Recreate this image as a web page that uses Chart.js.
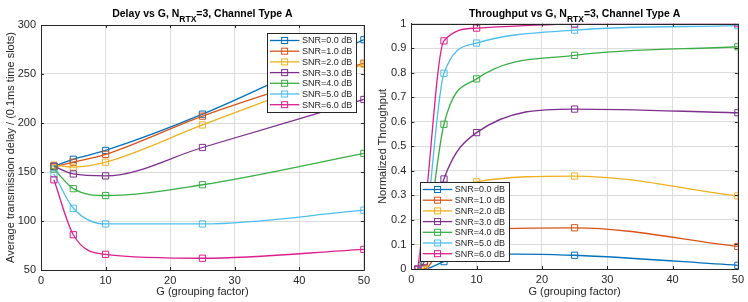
<!DOCTYPE html>
<html>
<head>
<meta charset="utf-8">
<script src="https://cdn.jsdelivr.net/npm/chart.js@4.4.1/dist/chart.umd.min.js"></script>
<style>
    html, body { margin: 0; padding: 0; background: #fff; }
    #wrap { position: relative; width: 748px; height: 302px; overflow: hidden; }
    .panel { position: absolute; top: 0; width: 374px; height: 302px; }
</style>
</head>
<body>
<div id="wrap">
    <div class="panel" style="left:0"><canvas id="delay-chart" width="374" height="302"></canvas></div>
    <div class="panel" style="left:374px"><canvas id="thr-chart" width="374" height="302"></canvas></div>
</div>
<script>
// series names
var snrLabels = ["SNR=0.0 dB", "SNR=1.0 dB", "SNR=2.0 dB", "SNR=3.0 dB", "SNR=4.0 dB", "SNR=5.0 dB", "SNR=6.0 dB"];

// left panel: delay, G = 2..50
var gDelay = [2, 5, 10, 25, 50];
var delaySnr0 = [156, 163, 172, 209, 285];
var delaySnr1 = [155, 160, 168, 207, 261];
var delaySnr2 = [157, 155, 160, 198, 260];
var delaySnr3 = [156, 148, 146, 175, 224];
var delaySnr4 = [153, 133, 126, 137, 169];
var delaySnr5 = [148, 113, 97, 97, 111];
var delaySnr6 = [142, 86, 66, 62, 71];

// right panel: throughput, G = 1..50
var gThr = [1, 2, 5, 10, 25, 50];
var thrSnr0 = [0, 0, 0.03, 0.062, 0.056, 0.015];
var thrSnr1 = [0, 0, 0.11, 0.16, 0.168, 0.092];
var thrSnr2 = [0, 0.005, 0.27, 0.355, 0.379, 0.298];
var thrSnr3 = [0, 0.03, 0.367, 0.556, 0.652, 0.637];
var thrSnr4 = [0, 0.06, 0.59, 0.775, 0.871, 0.906];
var thrSnr5 = [0, 0.12, 0.798, 0.921, 0.974, 0.992];
var thrSnr6 = [0, 0.22, 0.93, 0.982, 0.998, 1.0];

// axis ticks
var xTicks = [0, 10, 20, 30, 40, 50];
var delayTicks = [50, 100, 150, 200, 250, 300];
var thrTicks = [0, 0.1, 0.2, 0.3, 0.4, 0.5, 0.6, 0.7, 0.8, 0.9, 1];

var colors = ["#0072bd", "#d95319", "#edb120", "#7e2f8e", "#3aae44", "#4dbeee", "#dc1f8e"];
var FONT = "'Liberation Sans', Arial, Helvetica, sans-serif";
var INK = "#262626";

function makeDatasets(xs, series) {
    return series.map(function (ys, i) {
        return {
            label: snrLabels[i],
            data: ys.map(function (y, k) { return { x: xs[k], y: y }; }),
            borderColor: colors[i],
            backgroundColor: "rgba(0,0,0,0)",
            borderWidth: 1.3,
            pointStyle: "rect",
            pointRadius: 4.4,
            pointBorderWidth: 1,
            pointBorderColor: colors[i],
            pointBackgroundColor: "rgba(0,0,0,0)",
            cubicInterpolationMode: "monotone",
            order: series.length - i
        };
    });
}

// box round the axes and inward tick marks
var framePlugin = {
    id: "frame",
    afterDatasetsDraw: function (chart) {
        var a = chart.chartArea, ctx = chart.ctx;
        var xs = chart.scales.x, ys = chart.scales.y;
        ctx.save();
        ctx.strokeStyle = INK;
        ctx.lineWidth = 1;
        ctx.beginPath();
        ctx.rect(Math.round(a.left) + 0.5, Math.round(a.top) + 0.5, Math.round(a.right - a.left), Math.round(a.bottom - a.top));
        xs.ticks.forEach(function (t) {
            var px = Math.round(xs.getPixelForValue(t.value)) + 0.5;
            ctx.moveTo(px, a.bottom); ctx.lineTo(px, a.bottom - 3);
            ctx.moveTo(px, a.top); ctx.lineTo(px, a.top + 3);
        });
        ys.ticks.forEach(function (t) {
            var py = Math.round(ys.getPixelForValue(t.value)) + 0.5;
            ctx.moveTo(a.left, py); ctx.lineTo(a.left + 3, py);
            ctx.moveTo(a.right, py); ctx.lineTo(a.right - 3, py);
        });
        ctx.stroke();
        ctx.restore();
    }
};

// title with N_RTX subscript
var titlePlugin = {
    id: "subTitle",
    afterDraw: function (chart, args, opts) {
        var ctx = chart.ctx, a = chart.chartArea;
        var main = "bold 10.5px " + FONT, sub = "bold 8.5px " + FONT;
        var parts = [[opts.before, main, 0], ["RTX", sub, 5], [opts.after, main, 0]];
        ctx.save();
        var total = 0;
        parts.forEach(function (p) { ctx.font = p[1]; total += ctx.measureText(p[0]).width; });
        var x = (a.left + a.right) / 2 - total / 2;
        ctx.fillStyle = "#000";
        ctx.textBaseline = "alphabetic";
        ctx.textAlign = "left";
        parts.forEach(function (p) {
            ctx.font = p[1];
            ctx.fillText(p[0], x, opts.y + p[2]);
            x += ctx.measureText(p[0]).width;
        });
        ctx.restore();
    }
};

// matlab style legend box
var boxLegendPlugin = {
    id: "boxLegend",
    afterDatasetsDraw: function (chart, args, opts) {
        var ctx = chart.ctx, a = chart.chartArea;
        var w = 89, h = 79;
        var left = opts.corner === "topright" ? a.right - 8 - w : a.left + 8.5;
        var top = opts.corner === "topright" ? a.top + 8 : a.bottom - 8 - h;
        ctx.save();
        ctx.fillStyle = "#fff";
        ctx.fillRect(left, top, w, h);
        ctx.strokeStyle = INK;
        ctx.lineWidth = 1;
        ctx.strokeRect(Math.round(left) + 0.5, Math.round(top) + 0.5, w, h);
        ctx.font = "9px " + FONT;
        ctx.textBaseline = "middle";
        chart.data.datasets.forEach(function (ds, i) {
            var cy = top + 7.5 + i * 10.7;
            ctx.strokeStyle = ds.borderColor;
            ctx.lineWidth = 1.3;
            ctx.beginPath();
            ctx.moveTo(left + 3, cy);
            ctx.lineTo(left + 32.5, cy);
            ctx.stroke();
            ctx.lineWidth = 1;
            ctx.strokeRect(left + 17.75 - 3, cy - 3, 6, 6);
            ctx.fillStyle = INK;
            ctx.fillText(ds.label, left + 35, cy + 0.5);
        });
        ctx.restore();
    }
};

function axisOptions(cfg) {
    return {
        x: {
            type: "linear",
            min: 0, max: 50,
            afterBuildTicks: function (scale) { scale.ticks = xTicks.map(function (v) { return { value: v }; }); },
            afterFit: function (scale) { scale.height = cfg.xHeight; },
            grid: { color: "#dcdcdc", lineWidth: 1, drawTicks: false },
            border: { color: INK, width: 1 },
            ticks: { color: INK, padding: 4, font: { family: FONT, size: 11 } },
            title: {
                display: true, text: "G (grouping factor)", color: INK,
                font: { family: FONT, size: 11 }, padding: { top: 0, bottom: 3.5 }
            }
        },
        y: {
            type: "linear",
            min: cfg.yMin, max: cfg.yMax,
            afterBuildTicks: function (scale) { scale.ticks = cfg.yTicks.map(function (v) { return { value: v }; }); },
            afterFit: function (scale) { scale.width = cfg.yWidth; },
            grid: { color: "#dcdcdc", lineWidth: 1, drawTicks: false },
            border: { color: INK, width: 1 },
            ticks: {
                color: INK, padding: 5, font: { family: FONT, size: 11 },
                callback: function (v) { return String(Math.round(v * 10) / 10); }
            },
            title: {
                display: true, text: cfg.yTitle, color: INK,
                font: { family: FONT, size: 11 }, padding: { top: cfg.yTitlePad, bottom: 0 }
            }
        }
    };
}

function buildChart(id, cfg) {
    return new Chart(document.getElementById(id), {
        type: "line",
        data: { datasets: makeDatasets(cfg.xs, cfg.series) },
        options: {
            responsive: false,
            animation: false,
            devicePixelRatio: 1,
            layout: { padding: { top: cfg.top, right: 8, left: 0, bottom: 0 } },
            scales: axisOptions(cfg),
            plugins: {
                legend: { display: false },
                tooltip: { enabled: false },
                subTitle: { before: cfg.titleBefore, after: "=3, Channel Type A", y: 17.3 },
                boxLegend: { corner: cfg.legendCorner }
            }
        },
        plugins: [framePlugin, boxLegendPlugin, titlePlugin]
    });
}

buildChart("delay-chart", {
    xs: gDelay,
    series: [delaySnr0, delaySnr1, delaySnr2, delaySnr3, delaySnr4, delaySnr5, delaySnr6],
    yMin: 50, yMax: 300, yTicks: delayTicks,
    yTitle: "Average transmission delay / (0.1ms time slots)",
    yTitlePad: 4.4, yWidth: 41, xHeight: 32, top: 25,
    titleBefore: "Delay vs G, N",
    legendCorner: "topright"
});

buildChart("thr-chart", {
    xs: gThr,
    series: [thrSnr0, thrSnr1, thrSnr2, thrSnr3, thrSnr4, thrSnr5, thrSnr6],
    yMin: 0, yMax: 1, yTicks: thrTicks,
    yTitle: "Normalized Throughput",
    yTitlePad: 2.4, yWidth: 37.3, xHeight: 33, top: 23.7,
    titleBefore: "Throughput vs G, N",
    legendCorner: "bottomleft"
});
</script>
</body>
</html>
